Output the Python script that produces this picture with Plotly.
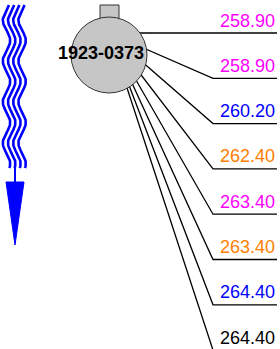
import numpy as np
import plotly.graph_objects as go

well_name = "1923-0373"
depths = [258.90, 258.90, 260.20, 262.40, 263.40, 263.40, 264.40, 264.40]
depth_colors = ["#FF00FF", "#FF00FF", "#0000FF", "#FF8000",
                "#FF00FF", "#FF8000", "#0000FF", "#000000"]

W, H = 280, 349
fig = go.Figure()

# wavy flow symbol (decoration)
yy = np.linspace(5, 168, 200)
for k in range(4):
    c = 6.5 + 5.2 * k
    xx = c - 3.7 * np.cos(2 * np.pi * (yy - 20) / 41)
    fig.add_trace(go.Scatter(x=xx, y=yy, mode="lines",
                             line=dict(color="#0000FF", width=2.6),
                             hoverinfo="skip", showlegend=False))
# stem + arrow
fig.add_trace(go.Scatter(x=[15, 15], y=[166, 183], mode="lines",
                         line=dict(color="#0000FF", width=2),
                         hoverinfo="skip", showlegend=False))
fig.add_trace(go.Scatter(x=[6, 24, 15, 6], y=[182, 182, 245, 182], mode="lines",
                         fill="toself", fillcolor="#0000FF",
                         line=dict(color="#0000FF", width=1),
                         hoverinfo="skip", showlegend=False))

# leader lines and depth labels
ox, oy = 109, 33
slot0, step = 33, 45.3
elbow_x, end_x = 213, 277
for i, (d, col) in enumerate(zip(depths, depth_colors)):
    y = slot0 + i * step
    fig.add_trace(go.Scatter(x=[ox, elbow_x, end_x], y=[oy, y, y], mode="lines",
                             line=dict(color="black", width=1.3),
                             hoverinfo="skip", showlegend=False))
    fig.add_annotation(x=end_x, y=y - 12.5, text=f"{d:.2f}", showarrow=False,
                       xanchor="right", yanchor="middle",
                       font=dict(family="Liberation Sans, Arial", size=18, color=col))

# well head symbol
fig.add_shape(type="rect", x0=100, x1=119, y0=5, y1=19,
              fillcolor="#C6C6C6", line=dict(color="#333333", width=1))
fig.add_shape(type="circle", x0=71, x1=147, y0=17, y1=93,
              fillcolor="#C6C6C6", line=dict(color="#333333", width=1))
fig.add_annotation(x=101, y=53, text=f"<b>{well_name}</b>", showarrow=False,
                   xanchor="center", yanchor="middle",
                   font=dict(family="Liberation Sans, Arial", size=18, color="black"))

fig.update_xaxes(range=[0, W], visible=False, fixedrange=True)
fig.update_yaxes(range=[H, 0], visible=False, fixedrange=True)
fig.update_layout(width=W, height=H, margin=dict(l=0, r=0, t=0, b=0),
                  plot_bgcolor="white", paper_bgcolor="white", showlegend=False)
fig.write_html("out.html", config={"displayModeBar": False},
               post_script="document.body.style.margin='0';document.body.style.overflow='hidden';")
